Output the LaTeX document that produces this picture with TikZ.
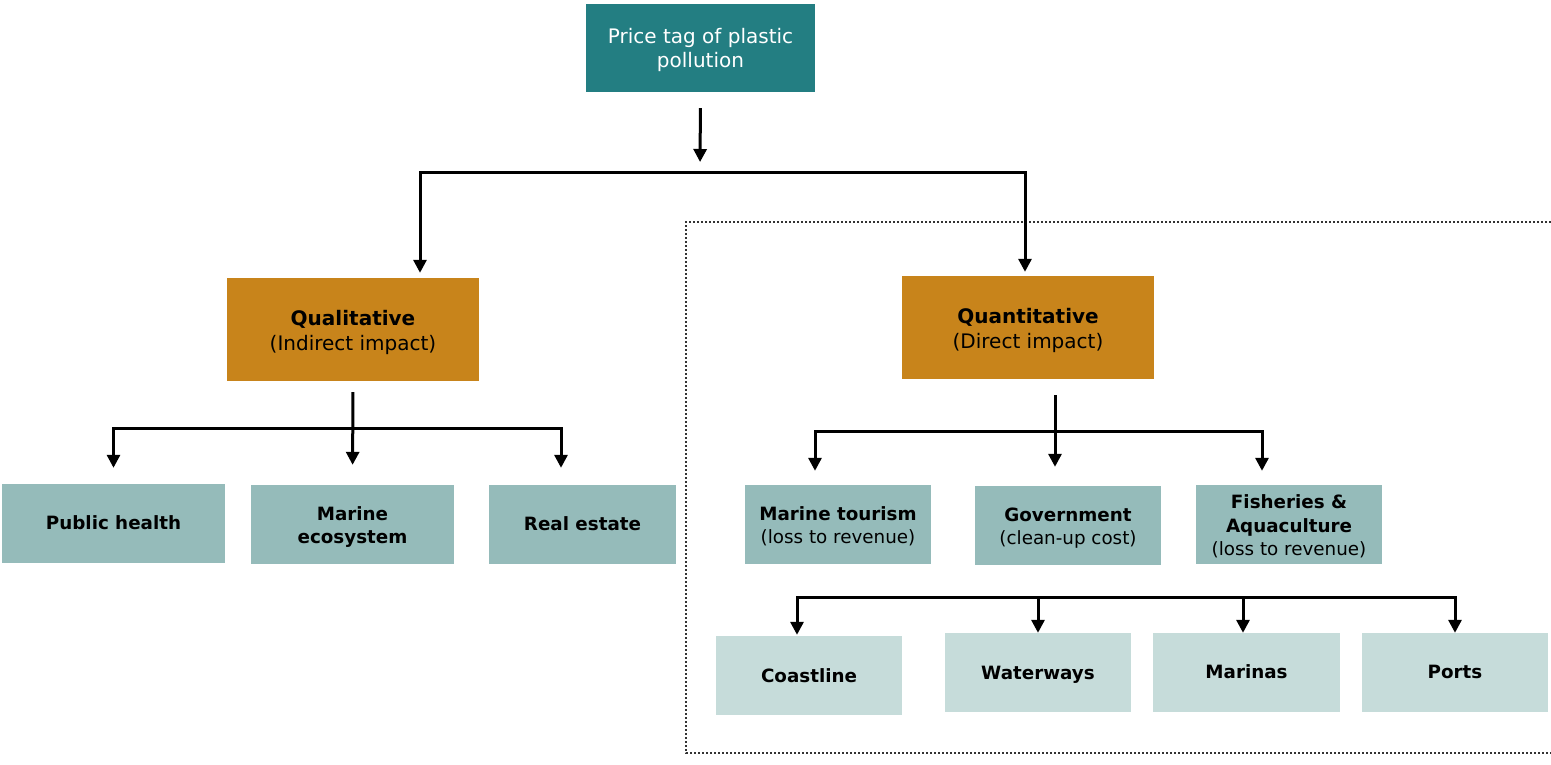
\documentclass[tikz,border=0pt]{standalone}
\usepackage{fontspec}
\setmainfont{DejaVu Sans}
\usetikzlibrary{arrows.meta}
\definecolor{topteal}{HTML}{237E82}
\definecolor{ochre}{HTML}{C8841B}
\definecolor{midteal}{HTML}{95BBBA}
\definecolor{lightteal}{HTML}{C6DCDA}
\newcommand\boxtext[2][3pt]{\raisebox{-#1}[\height][\depth]{\begin{tabular}{@{}c@{}}#2\end{tabular}}}
\tikzset{
  box/.style={draw=none, inner sep=2pt, anchor=center},
  topbox/.style={box, fill=topteal, text=white, minimum width=229pt, minimum height=88pt, font=\fontsize{20}{24}\selectfont},
  headbox/.style={box, fill=ochre, text=black, minimum width=252pt, minimum height=103pt, font=\fontsize{20}{25}\selectfont},
  leafbox/.style={box, fill=midteal, text=black, minimum height=79pt, font=\fontsize{18.3}{23.5}\selectfont},
  subbox/.style={box, fill=lightteal, text=black, minimum width=186pt, minimum height=79pt, font=\fontsize{18.3}{23.5}\selectfont},
  conn/.style={line width=3pt, black},
  arr/.style={conn, -{Triangle[width=13pt,length=13pt]}},
  arrs/.style={conn, {Triangle[width=13pt,length=13pt]}-{Triangle[width=13pt,length=13pt]}},
  frame/.style={dash pattern=on 2pt off 2pt, line width=2pt, black!80}
}
\begin{document}
\begin{tikzpicture}[x=1pt,y=-1pt]
\useasboundingbox (0,0) rectangle (1551,764);
% dotted frame
\draw[frame] (1551,222) -- (686,222) -- (686,753) -- (1551,753);
% nodes
\node[topbox] (top) at (700.5,48) {\boxtext{Price tag of plastic\\pollution}};
\node[headbox] (qual) at (353,329.5) {\boxtext{\textbf{Qualitative}\\(Indirect impact)}};
\node[headbox] (quant) at (1028,327.5) {\boxtext{\textbf{Quantitative}\\(Direct impact)}};
\node[leafbox, minimum width=223pt] (ph) at (113.5,523.5) {\boxtext[1pt]{\textbf{Public health}}};
\node[leafbox, minimum width=203pt] (me) at (352.5,524.5) {\boxtext{\textbf{Marine}\\\textbf{ecosystem}}};
\node[leafbox, minimum width=187pt] (re) at (582.5,524.5) {\boxtext[1pt]{\textbf{Real estate}}};
\node[leafbox, minimum width=186pt] (mt) at (838,524.5) {\boxtext{\textbf{Marine tourism}\\(loss to revenue)}};
\node[leafbox, minimum width=186pt] (gov) at (1068,525.5) {\boxtext{\textbf{Government}\\(clean-up cost)}};
\node[leafbox, minimum width=186pt] (fa) at (1289,524.5) {\boxtext{\textbf{Fisheries \&}\\\textbf{Aquaculture}\\(loss to revenue)}};
\node[subbox] (cl) at (809,675.5) {\boxtext[2pt]{\textbf{Coastline}}};
\node[subbox] (ww) at (1038,672.5) {\boxtext[2pt]{\textbf{Waterways}}};
\node[subbox, minimum width=187pt] (ma) at (1246.5,672.5) {\boxtext[1.5pt]{\textbf{Marinas}}};
\node[subbox] (po) at (1455,672.5) {\boxtext[1.5pt]{\textbf{Ports}}};
% branch coordinates
\coordinate (b1) at (700,172);
\coordinate (b1l) at (420,172);
\coordinate (b1r) at (1025,172);
\coordinate (b2) at (353,428);
\coordinate (b2r) at (561,428);
\coordinate (b3) at (1055,431);
\coordinate (b3l) at (815,431);
\coordinate (b3r) at (1262,431);
\coordinate (b4) at (1126,597);
\coordinate (b4l) at (797,597);
\coordinate (b4m) at (1243,597);
% level 1
\draw[arr, shorten <=16pt, shorten >=10pt] (top.south) -- (b1);
\draw[arrs, shorten <=5pt, shorten >=4pt] (b1l |- qual.north) |- (b1) -| (b1r |- quant.north);
% level 2 left
\draw[arr, shorten <=11pt, shorten >=20pt] (qual.south) -- (me.north);
\draw[arrs, shorten <=16pt, shorten >=17pt] (ph.north) |- (b2) -| (b2r |- re.north);
% level 2 right
\draw[arr, shorten <=16pt, shorten >=19pt] (b3 |- quant.south) -- (b3 |- gov.north);
\draw[arrs, shorten <=14pt, shorten >=14pt] (b3l |- mt.north) |- (b3) -| (b3r |- fa.north);
% level 3
\draw[arrs, shorten <=1pt] (b4l |- cl.north) |- (b4) -| (po.north);
\draw[arr] (ww.north |- b4) -- (ww.north);
\draw[arr] (b4m) -- (b4m |- ma.north);
\end{tikzpicture}
\end{document}
